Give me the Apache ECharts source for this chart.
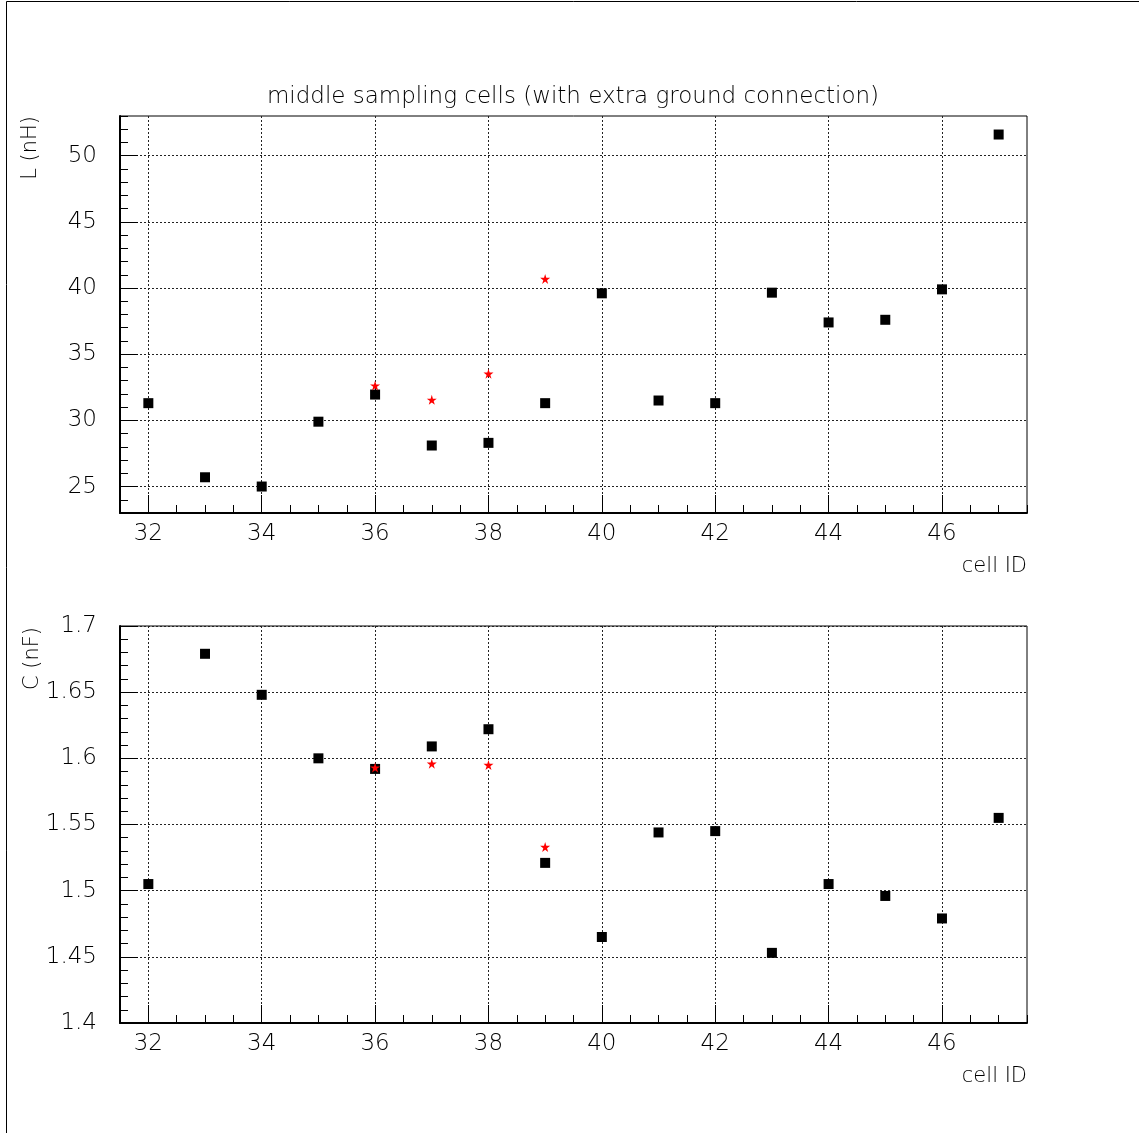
<!DOCTYPE html>
<html><head><meta charset="utf-8">
<script src="https://cdn.jsdelivr.net/npm/echarts@6/dist/echarts.min.js"></script>
<style>html,body{margin:0;padding:0;background:#fff}#c{width:1139px;height:1133px}</style>
</head><body><div id="c"></div>
<script>
// ---- data ----
const cellIds = [32,33,34,35,36,37,38,39,40,41,42,43,44,45,46,47];
const inductance = [31.3,25.7,25.0,29.9,31.95,28.1,28.3,31.3,39.6,31.5,31.3,39.65,37.4,37.6,39.9,51.6];
const capacitance = [1.505,1.679,1.648,1.600,1.592,1.609,1.622,1.521,1.465,1.544,1.545,1.453,1.505,1.496,1.479,1.555];
const starIds = [36,37,38,39];
const starInductance = [32.63,31.55,33.53,40.69];
const starCapacitance = [1.593,1.596,1.595,1.533];
const xMajorTicks = [32,34,36,38,40,42,44,46];
const lMajorTicks = [25,30,35,40,45,50];
const cMajorTicks = [1.4,1.45,1.5,1.55,1.6,1.65,1.7];
const titleText = 'middle sampling cells (with extra ground connection)';
const xName = 'cell ID';
const lName = 'L (nH)';
const cName = 'C (nF)';

// ---- styling / layout ----
const FONT = '"DejaVu Sans", sans-serif';
const FW = 200;
const starPath = 'path://M50,0 L61,35 L98,35 L68,57 L79,91 L50,70 L21,91 L32,57 L2,35 L39,35 Z';
const dotted = {color:'#222', width:1, type:[2,2]};

function majorX(grid){
  return {type:'value', gridIndex:grid, position:'bottom', min:31.5, max:47.5,
    axisLine:{show:true, onZero:false, lineStyle:{color:'#000', width:2}},
    axisTick:{show:true, inside:true, length:18, customValues:xMajorTicks, lineStyle:{color:'#000', width:1}},
    axisLabel:{show:true, customValues:xMajorTicks, margin:10, color:'#000', fontFamily:FONT, fontWeight:FW, fontSize:23},
    splitLine:{show:true, lineStyle:dotted}};
}
function minorX(grid){
  return {type:'value', gridIndex:grid, position:'bottom', min:31.5, max:47.5, interval:0.5,
    axisLine:{show:false}, axisLabel:{show:false}, splitLine:{show:false},
    axisTick:{show:true, inside:true, length:8, lineStyle:{color:'#000', width:1}}};
}
function majorY(grid, min, max, ticks){
  return {type:'value', gridIndex:grid, position:'left', min:min, max:max,
    axisLine:{show:true, onZero:false, lineStyle:{color:'#000', width:2}},
    axisTick:{show:true, inside:true, length:18, customValues:ticks, lineStyle:{color:'#000', width:1}},
    axisLabel:{show:true, customValues:ticks, margin:23, color:'#000', fontFamily:FONT, fontWeight:FW, fontSize:23},
    splitLine:{show:true, lineStyle:dotted}};
}
function minorY(grid, min, max, step){
  return {type:'value', gridIndex:grid, position:'left', min:min, max:max, interval:step,
    axisLine:{show:false}, axisLabel:{show:false}, splitLine:{show:false},
    axisTick:{show:true, inside:true, length:8, lineStyle:{color:'#000', width:1}}};
}
function pts(xs, ys){ return xs.map((x,i)=>[x, ys[i]]); }

const chart = echarts.init(document.getElementById('c'), null, {renderer:'canvas'});
const txt = (t, size, align) => ({text:t, fontFamily:FONT, fontWeight:FW, fontSize:size, fill:'#000', textAlign:align, textVerticalAlign:'middle'});
chart.setOption({
  animation:false,
  backgroundColor:'#fff',
  grid:[
    {left:120, top:116, width:907, height:397, show:true, borderColor:'#000', borderWidth:1, backgroundColor:'transparent'},
    {left:120, top:626, width:907, height:397, show:true, borderColor:'#000', borderWidth:1, backgroundColor:'transparent'}
  ],
  xAxis:[majorX(0), minorX(0), majorX(1), minorX(1)],
  yAxis:[majorY(0,23,53,lMajorTicks), minorY(0,23,53,1), majorY(1,1.4,1.7,cMajorTicks), minorY(1,1.4,1.7,0.01)],
  series:[
    {type:'scatter', xAxisIndex:0, yAxisIndex:0, symbol:'rect', symbolSize:10, itemStyle:{color:'#000', opacity:1}, data:pts(cellIds, inductance)},
    {type:'scatter', xAxisIndex:0, yAxisIndex:0, symbol:starPath, symbolSize:10, itemStyle:{color:'#ff0000', opacity:1}, data:pts(starIds, starInductance)},
    {type:'scatter', xAxisIndex:2, yAxisIndex:2, symbol:'rect', symbolSize:10, itemStyle:{color:'#000', opacity:1}, data:pts(cellIds, capacitance)},
    {type:'scatter', xAxisIndex:2, yAxisIndex:2, symbol:starPath, symbolSize:10, itemStyle:{color:'#ff0000', opacity:1}, data:pts(starIds, starCapacitance)}
  ],
  graphic:[
    {type:'rect', shape:{x:6.5, y:1.5, width:1200, height:1200}, style:{fill:'none', stroke:'#000', lineWidth:1}, silent:true},
    {type:'text', x:573, y:97, style:txt(titleText, 23, 'center')},
    {type:'text', x:1027, y:567, style:txt(xName, 21, 'right')},
    {type:'text', x:1027, y:1077, style:txt(xName, 21, 'right')},
    {type:'text', x:31, y:116, rotation:Math.PI/2, style:txt(lName, 21, 'right')},
    {type:'text', x:33, y:627, rotation:Math.PI/2, style:txt(cName, 21, 'right')}
  ]
});
</script></body></html>
